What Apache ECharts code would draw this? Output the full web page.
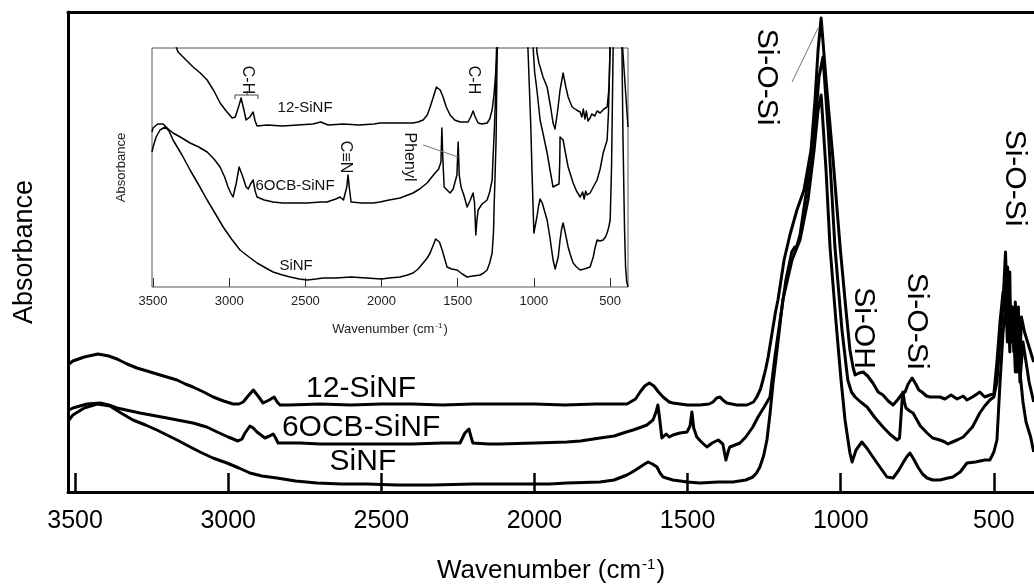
<!DOCTYPE html>
<html>
<head>
<meta charset="utf-8">
<script src="https://cdn.jsdelivr.net/npm/echarts@6/dist/echarts.min.js"></script>
<style>html,body{margin:0;padding:0;background:#fff;}#c{width:1034px;height:588px;}</style>
</head>
<body>
<div id="c"></div>
<script>
// ---------- DATA (wavenumber, absorbance in arbitrary units) ----------
const tickValues = [3500, 3000, 2500, 2000, 1500, 1000, 500];

// Main plot
const main12Wn = [3520,3507,3470,3425,3390,3363,3330,3298,3265,3233,3200,3167,3140,3115,3080,3049,3015,2984,2965,2951,2935,2918,2905,2886,2866,2850,2840,2831,2800,2700,2600,2500,2400,2300,2200,2100,2000,1900,1800,1698,1670,1655,1640,1625,1610,1595,1580,1560,1548,1500,1460,1430,1417,1405,1394,1385,1372,1340,1306,1285,1274,1262,1254,1245,1237,1229,1221,1213,1205,1185,1166,1143,1120,1097,1084,1074,1064,1048,1025,1002,983,970,960,953,940,927,912,895,878,862,845,829,815,800,790,780,767,755,745,735,720,709,690,676,660,640,620,600,588,570,555,546,530,513,500,490,480,470,465,460,455,450,445,440,435,430,425,420,415,410,400,390,380,370];
const main12Ab = [128,131,135,138,136,133,128,124,121,118,115,112,108,105,100,95,91,88,88,90,96,102,97,89,92,95,90,87,87,88,87,88,88,87,88,88,88,87,88,88,93,100,106,109,106,100,95,90,89,87,87,88,90,94,95,92,89,87,87,90,95,103,112,123,135,150,165,180,192,232,257,282,302,342,392,442,474,412,332,245,182,142,125,117,119,120,116,109,100,97,91,87,92,98,100,108,114,108,102,100,96,95,95,95,93,97,93,96,92,95,98,100,95,97,98,130,170,200,180,215,170,205,160,185,150,190,140,170,130,175,160,150,140,130];

const main6Wn = [3520,3507,3461,3418,3390,3363,3288,3200,3115,3070,3036,3000,2968,2955,2945,2929,2918,2906,2880,2865,2853,2845,2837,2800,2765,2700,2600,2500,2400,2300,2243,2235,2227,2214,2207,2201,2150,2112,2000,1894,1850,1786,1740,1700,1678,1650,1633,1613,1603,1597,1590,1584,1570,1560,1548,1525,1502,1492,1486,1480,1470,1455,1437,1420,1400,1385,1375,1372,1366,1362,1345,1329,1310,1287,1270,1250,1231,1215,1198,1179,1160,1156,1150,1143,1133,1110,1084,1071,1058,1041,1019,996,977,965,953,935,914,890,862,840,816,808,800,797,792,787,775,764,740,718,700,676,660,650,643,620,600,588,570,546,530,513,500,490,480,470,466,462,458,455,452,448,445,440,435,430,425,420,415,405,395,385,370];
const main6Ab = [82,84,88,89,87,84,79,74,69,65,60,55,51,53,59,66,64,60,54,56,58,54,49,49,49,48,48,48,48,49,49,54,59,63,55,49,48,48,49,50,51,54,56,60,62,65,67,72,80,87,70,54,58,55,57,59,60,66,80,64,55,50,45,49,52,48,32,30,42,45,47,49,55,65,75,85,95,135,172,212,240,242,245,246,257,305,365,415,435,362,245,162,112,100,95,90,85,75,65,58,52,54,90,100,90,84,81,79,66,59,54,52,50,48,49,52,55,59,65,79,86,92,95,110,150,190,215,240,200,225,170,220,150,185,140,175,120,185,110,150,130,110,90,70];

const mainSWn = [3520,3507,3470,3428,3386,3350,3311,3270,3233,3200,3167,3130,3092,3050,3004,2965,2929,2890,2841,2780,2710,2630,2547,2450,2331,2200,2047,1950,1894,1786,1740,1698,1675,1655,1640,1629,1615,1600,1590,1580,1548,1500,1460,1400,1352,1310,1287,1275,1264,1252,1241,1231,1221,1208,1189,1159,1133,1107,1087,1074,1064,1048,1035,1016,999,986,970,963,950,931,915,895,870,849,829,810,797,785,774,762,748,733,718,700,676,650,634,610,588,560,530,513,500,490,480,470,465,460,456,452,448,445,440,435,430,425,415,405,395,380,370];
const mainSAb = [72,77,84,88,86,79,72,67,62,57,52,46,40,34,29,24,19,16,14,11,9,8,8,7,7,8,8,8,9,10,12,17,21,25,28,30,28,25,19,15,12,10,9,10,10,12,15,19,25,36,52,78,109,142,192,232,252,292,342,382,397,322,245,172,112,72,39,30,42,50,44,35,24,15,14,22,29,35,39,33,25,18,14,12,12,14,15,20,29,30,32,32,40,52,109,160,175,190,150,175,140,180,150,160,120,135,120,90,70,55,40,30];

// Inset
const ins12Wn = [3360,3336,3290,3237,3190,3145,3100,3060,3020,2981,2960,2949,2935,2922,2905,2889,2865,2843,2830,2817,2750,2650,2550,2450,2400,2350,2250,2150,2050,2010,1900,1793,1760,1727,1700,1681,1660,1640,1629,1615,1596,1575,1550,1520,1484,1432,1415,1399,1385,1366,1340,1307,1290,1274,1262,1254,1241,1230,1100,1000,990,980,967,955,940,913,890,874,861,845,828,808,790,775,749,720,696,685,675,665,655,645,631,620,600,585,565,540,519,506,499,490,470,430,382];
const ins12Ab = [245,235,228,220,214,207,196,184,176,169,170,172,182,189,178,167,170,175,166,161,162,161,162,163,165,162,163,162,163,164,164,164,165,167,172,180,190,200,202,197,190,180,172,167,165,165,170,176,170,164,163,164,168,177,192,207,235,260,400,300,260,235,224,218,210,200,180,164,158,175,197,214,200,190,180,177,175,170,178,168,176,166,169,173,171,176,174,178,180,200,245,280,300,290,280];

const ins6Wn = [3507,3500,3470,3434,3400,3369,3310,3257,3200,3145,3100,3060,3030,3008,2990,2975,2955,2935,2915,2889,2875,2860,2843,2830,2817,2770,2712,2650,2600,2489,2400,2358,2300,2272,2250,2239,2228,2220,2212,2200,2130,2055,2010,1950,1878,1793,1750,1701,1670,1648,1625,1610,1604,1598,1589,1570,1550,1530,1517,1505,1497,1490,1478,1460,1438,1420,1399,1390,1381,1375,1366,1340,1307,1290,1274,1268,1260,1254,1245,1200,1100,1005,995,980,959,935,913,895,874,850,835,830,828,818,808,790,775,742,720,696,680,670,660,650,631,610,585,565,545,519,510,499,480,440,400,382];
const ins6Ab = [155,159,163,163,158,154,149,144,140,135,128,120,110,100,94,90,103,120,112,100,98,103,107,96,90,87,85,84,84,84,85,85,88,90,87,86,100,112,100,85,84,84,85,87,89,94,98,104,110,114,118,125,159,130,100,97,94,98,100,112,145,112,100,92,80,86,94,85,52,65,77,83,87,95,107,130,155,180,240,330,380,240,215,197,167,150,134,118,100,102,103,125,150,148,147,132,120,104,96,90,95,88,96,92,94,100,107,118,134,147,175,245,300,290,200,160];

const insSWn = [3507,3500,3480,3454,3421,3395,3369,3310,3257,3200,3145,3090,3040,2985,2929,2870,2817,2760,2712,2650,2600,2540,2489,2430,2384,2300,2200,2100,2000,1950,1878,1830,1793,1760,1727,1700,1681,1660,1645,1635,1620,1602,1585,1570,1540,1504,1470,1438,1400,1353,1330,1307,1290,1274,1265,1261,1255,1248,1241,1200,1100,1050,1038,1020,1012,1005,1000,990,980,968,959,945,930,913,895,874,860,854,840,828,818,808,795,775,760,742,720,696,670,650,631,610,600,585,565,545,530,519,508,499,490,480,470,440,425,415,405,398,390,382];
const insSAb = [135,140,150,157,160,156,147,132,117,102,87,73,60,48,37,30,24,19,15,12,10,8,7,8,9,9,10,9,8,9,10,12,14,18,24,29,34,42,48,50,45,37,28,20,18,17,13,10,11,12,14,17,24,34,55,80,110,147,235,320,330,280,235,160,114,80,54,62,70,82,88,84,76,67,50,27,18,17,30,47,58,64,55,40,32,24,20,17,18,19,20,30,38,47,46,47,50,54,60,67,120,235,290,300,280,150,60,20,5,0];

// Annotation anchors (data coordinates)
const mainCurveLabels = [['12-SiNF', 2566, 103], ['6OCB-SiNF', 2566, 64], ['SiNF', 2560, 30]];
const mainPeakLabels = [['Si-O-Si', 1244, 415], ['Si-OH', 927, 164], ['Si-O-Si', 754, 171], ['Si-O-Si', 434, 314]];
const insetCurveLabels = [['12-SiNF', 2502, 179], ['6OCB-SiNF', 2568, 101], ['SiNF', 2561, 21]];
const insetPeakLabels = [['C-H', 2883, 207], ['C-H', 1399, 207], ['C\u2261N', 2239, 130], ['Phenyl', 1819, 130]];

// ---------- CHART ----------
const FONT = "'Liberation Sans', Arial, Helvetica, sans-serif";
const pairs = (w, a) => w.map((x, i) => [x, a[i]]);
const plain = v => String(v);
const chart = echarts.init(document.getElementById('c'), null, {renderer: 'canvas'});

function mkLine(name, wn, ab, xi, yi, width) {
  return {
    name: name, type: 'line', xAxisIndex: xi, yAxisIndex: yi,
    data: pairs(wn, ab), showSymbol: false, symbol: 'none', clip: true,
    lineStyle: {color: '#000', width: width, join: 'round'}, silent: true, z: 3
  };
}

const option = {
  animation: false,
  backgroundColor: '#fff',
  grid: [
    {left: 68, top: 12, right: 0, bottom: 96, containLabel: false, outerBoundsMode: 'none'},
    {left: 152, top: 48, width: 476, height: 239, show: true, borderColor: '#555', borderWidth: 1, backgroundColor: 'rgba(0,0,0,0)', containLabel: false, outerBoundsMode: 'none'}
  ],
  xAxis: [
    {
      gridIndex: 0, type: 'value', inverse: true, min: 369, max: 3523,
      axisLine: {show: true, lineStyle: {color: '#000', width: 3}},
      axisTick: {show: true, inside: true, length: 19, customValues: tickValues, lineStyle: {color: '#000', width: 2.5}},
      axisLabel: {show: true, customValues: tickValues, formatter: plain, fontSize: 25, color: '#000', fontFamily: FONT, margin: 17},
      splitLine: {show: false},
      name: '{a|Wavenumber (cm}{s|-1}{a|)}', nameLocation: 'middle', nameGap: 65,
      nameTextStyle: {rich: {a: {fontSize: 26, fontFamily: FONT, color: '#000'}, s: {fontSize: 15, fontFamily: FONT, color: '#000', verticalAlign: 'top', padding: [0, 1, 12, 1]}}}
    },
    {
      gridIndex: 0, type: 'value', inverse: true, min: 369, max: 3523, position: 'top',
      axisLine: {show: true, lineStyle: {color: '#000', width: 3}},
      axisTick: {show: false}, axisLabel: {show: false}, splitLine: {show: false}
    },
    {
      gridIndex: 1, type: 'value', inverse: true, min: 382, max: 3507,
      axisLine: {show: false},
      axisTick: {show: true, inside: true, length: 9, customValues: tickValues, lineStyle: {color: '#333', width: 1}},
      axisLabel: {show: true, customValues: tickValues, formatter: plain, fontSize: 13, color: '#222', fontFamily: FONT, margin: 8},
      splitLine: {show: false},
      name: '{a|Wavenumber (cm}{s|-1}{a|)}', nameLocation: 'middle', nameGap: 35,
      nameTextStyle: {rich: {a: {fontSize: 13, fontFamily: FONT, color: '#222'}, s: {fontSize: 8, fontFamily: FONT, color: '#222', verticalAlign: 'top', padding: [0, 1, 6, 1]}}}
    }
  ],
  yAxis: [
    {
      gridIndex: 0, type: 'value', min: 0, max: 480,
      axisLine: {show: true, lineStyle: {color: '#000', width: 3}},
      axisTick: {show: false}, axisLabel: {show: false}, splitLine: {show: false},
      name: 'Absorbance', nameLocation: 'middle', nameGap: 30, nameRotate: 90,
      nameTextStyle: {fontSize: 27, fontFamily: FONT, color: '#000'}
    },
    {
      gridIndex: 1, type: 'value', min: 0, max: 239,
      axisLine: {show: false}, axisTick: {show: false}, axisLabel: {show: false}, splitLine: {show: false},
      name: 'Absorbance', nameLocation: 'middle', nameGap: 24, nameRotate: 90,
      nameTextStyle: {fontSize: 13, fontFamily: FONT, color: '#222'}
    }
  ],
  series: [
    mkLine('12-SiNF', main12Wn, main12Ab, 0, 0, 3),
    mkLine('6OCB-SiNF', main6Wn, main6Ab, 0, 0, 3),
    mkLine('SiNF', mainSWn, mainSAb, 0, 0, 3),
    mkLine('12-SiNF inset', ins12Wn, ins12Ab, 2, 1, 1.5),
    mkLine('6OCB-SiNF inset', ins6Wn, ins6Ab, 2, 1, 1.5),
    mkLine('SiNF inset', insSWn, insSAb, 2, 1, 1.5)
  ]
};
chart.setOption(option);

// ---------- annotations positioned through the axes ----------
const mainPx = (w, v) => chart.convertToPixel({xAxisIndex: 0, yAxisIndex: 0}, [w, v]);
const insPx = (w, v) => chart.convertToPixel({xAxisIndex: 2, yAxisIndex: 1}, [w, v]);

function txt(text, p, size, rot, color) {
  return {
    type: 'text', x: p[0], y: p[1], rotation: rot, z: 10,
    style: {text: text, fontSize: size, fontFamily: FONT, fill: color || '#000', align: 'center', verticalAlign: 'middle'}
  };
}
function seg(a, b, color, w) {
  return {type: 'line', z: 9, shape: {x1: a[0], y1: a[1], x2: b[0], y2: b[1]}, style: {stroke: color, lineWidth: w}};
}

const g = [];
mainCurveLabels.forEach(l => g.push(txt(l[0], mainPx(l[1], l[2]), 30, 0)));
mainPeakLabels.forEach(l => g.push(txt(l[0], mainPx(l[1], l[2]), 30, -Math.PI / 2)));
g.push(seg(mainPx(1159, 410), mainPx(1074, 464), '#777', 1));
insetCurveLabels.forEach(l => g.push(txt(l[0], insPx(l[1], l[2]), 15, 0, '#111')));
insetPeakLabels.forEach(l => g.push(txt(l[0], insPx(l[1], l[2]), 16, -Math.PI / 2, '#111')));
// C-H bracket
g.push(seg(insPx(2962, 192), insPx(2811, 192), '#444', 1));
g.push(seg(insPx(2962, 192), insPx(2962, 188), '#444', 1));
g.push(seg(insPx(2811, 192), insPx(2811, 188), '#444', 1));
g.push(seg(insPx(2883, 192), insPx(2883, 196), '#444', 1));
// Phenyl leader
g.push(seg(insPx(1727, 142), insPx(1497, 130), '#777', 1));

chart.setOption({graphic: g});
</script>
</body>
</html>
